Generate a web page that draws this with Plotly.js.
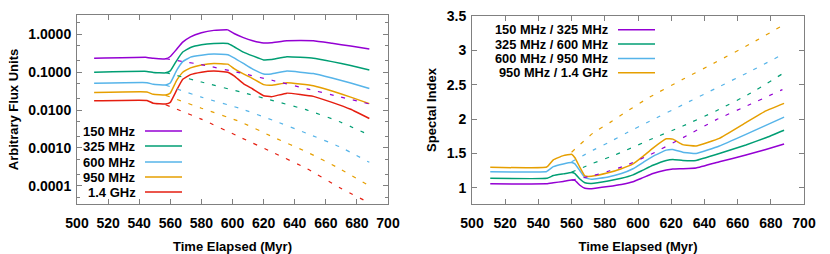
<!DOCTYPE html>
<html><head><meta charset="utf-8">
<script src="https://cdn.plot.ly/plotly-3.0.1.min.js"></script>
<style>html,body{margin:0;padding:0;background:#fff}#chart{width:830px;height:254px}</style>
</head><body><div id="chart"></div>
<script>
// ---------- Left panel: flux vs time ----------
const fluxTime = [511, 545, 549, 557, 560, 564, 568, 573, 580, 588, 597, 601, 607, 613, 620, 625, 635, 652, 664, 676, 688];
const flux150 = [0.232, 0.246, 0.232, 0.226, 0.26, 0.40, 0.62, 0.86, 1.10, 1.27, 1.31, 1.05, 0.82, 0.68, 0.59, 0.60, 0.68, 0.68, 0.58, 0.49, 0.41];
const flux325 = [0.100, 0.105, 0.098, 0.096, 0.108, 0.20, 0.34, 0.45, 0.53, 0.57, 0.57, 0.47, 0.34, 0.27, 0.21, 0.215, 0.255, 0.235, 0.19, 0.15, 0.114];
const flux600 = [0.051, 0.053, 0.048, 0.046, 0.052, 0.11, 0.19, 0.25, 0.28, 0.30, 0.29, 0.24, 0.17, 0.12, 0.09, 0.09, 0.107, 0.092, 0.07, 0.052, 0.037];
const flux950 = [0.029, 0.030, 0.026, 0.025, 0.028, 0.060, 0.10, 0.13, 0.155, 0.17, 0.163, 0.125, 0.09, 0.068, 0.047, 0.045, 0.053, 0.044, 0.032, 0.022, 0.0148];
const flux1400 = [0.0175, 0.018, 0.0152, 0.0145, 0.016, 0.033, 0.065, 0.086, 0.10, 0.107, 0.10, 0.08, 0.05, 0.036, 0.024, 0.0225, 0.028, 0.023, 0.016, 0.0105, 0.006];

const fluxDashTime = [557, 580, 605, 626, 648, 669, 688];
const flux150Dash = [0.2265, 0.1585, 0.0955, 0.0603, 0.0363, 0.0224, 0.0145];
const flux325Dash = [0.0977, 0.0550, 0.0302, 0.0178, 0.0100, 0.0049, 0.00219];
const flux600Dash = [0.0457, 0.0219, 0.0110, 0.00537, 0.0024, 0.00107, 0.000417];
const flux950Dash = [0.0245, 0.0112, 0.0049, 0.00195, 0.000776, 0.000282, 0.0001];
const flux1400Dash = [0.0138, 0.00575, 0.00191, 0.000759, 0.000282, 0.0000891, 0.0000355];

const fluxLabels = ['150 MHz', '325 MHz', '600 MHz', '950 MHz', '1.4 GHz'];
const fluxTickVals = [0.0001, 0.001, 0.01, 0.1, 1];
const fluxTickText = ['0.0001', '0.0010', '0.0100', '0.1000', '1.0000'];
const fluxMinorTicks = [0.00005, 0.0002, 0.0005, 0.002, 0.005, 0.02, 0.05, 0.2, 0.5, 2];

// ---------- Right panel: spectral index vs time ----------
const specTime = [511, 545, 549, 555, 560, 562, 565, 568, 572, 582, 590, 597, 603, 609, 617, 621, 627, 635, 649, 665, 677, 688];
const spec150_325 = [1.06, 1.06, 1.075, 1.095, 1.115, 1.11, 1.04, 0.995, 0.99, 1.02, 1.05, 1.09, 1.15, 1.21, 1.26, 1.275, 1.28, 1.29, 1.38, 1.48, 1.56, 1.64];
const spec325_600 = [1.14, 1.14, 1.18, 1.205, 1.225, 1.21, 1.13, 1.075, 1.065, 1.10, 1.14, 1.19, 1.26, 1.33, 1.40, 1.415, 1.40, 1.40, 1.50, 1.625, 1.73, 1.84];
const spec600_950 = [1.235, 1.24, 1.31, 1.35, 1.37, 1.35, 1.25, 1.15, 1.125, 1.16, 1.21, 1.28, 1.37, 1.46, 1.55, 1.56, 1.52, 1.50, 1.61, 1.78, 1.91, 2.03];
const spec950_1400 = [1.30, 1.305, 1.41, 1.47, 1.49, 1.44, 1.30, 1.175, 1.17, 1.22, 1.28, 1.35, 1.46, 1.58, 1.715, 1.71, 1.63, 1.61, 1.72, 1.95, 2.12, 2.23];

const specDashTime = [560, 573, 583, 593, 607, 627, 647, 668, 687];
const spec150_325Dash = [1.115, 1.18, 1.25, 1.33, 1.48, 1.73, 1.99, 2.22, 2.43];
const spec325_600Dash = [1.23, 1.36, 1.45, 1.55, 1.70, 1.90, 2.12, 2.38, 2.66];
const spec600_950Dash = [1.38, 1.55, 1.67, 1.80, 1.97, 2.21, 2.45, 2.70, 2.94];
const spec950_1400Dash = [1.52, 1.80, 1.95, 2.11, 2.32, 2.58, 2.83, 3.10, 3.36];

const specLabels = ['150 MHz / 325 MHz', '325 MHz / 600 MHz', '600 MHz / 950 MHz', '950 MHz / 1.4 GHz'];
const specTickVals = [1, 1.5, 2, 2.5, 3, 3.5];
const specTickText = ['1', '1.5', '2', '2.5', '3', '3.5'];
const timeTickVals = [500, 520, 540, 560, 580, 600, 620, 640, 660, 680, 700];

// ---------- Styling ----------
const colors = ['#9400d3', '#009e73', '#56b4e9', '#e69f00', '#e51e10'];
const FONT = 'Liberation Sans, Arial, sans-serif';
const frame = '#808080';
const W = 830, H = 254;
const DASH = '4px,8px';

const fluxSolid = [flux150, flux325, flux600, flux950, flux1400];
const fluxDash = [flux150Dash, flux325Dash, flux600Dash, flux950Dash, flux1400Dash];
const specSolid = [spec150_325, spec325_600, spec600_950, spec950_1400];
const specDash = [spec150_325Dash, spec325_600Dash, spec600_950Dash, spec950_1400Dash];

const traces = [];
fluxSolid.forEach((ys, i) => traces.push({x: fluxTime, y: ys, xaxis: 'x', yaxis: 'y', mode: 'lines', hoverinfo: 'skip', showlegend: false,
  line: {color: colors[i], width: 1.5, shape: 'spline', smoothing: 0.3}}));
fluxDash.forEach((ys, i) => traces.push({x: fluxDashTime, y: ys, xaxis: 'x', yaxis: 'y', mode: 'lines', hoverinfo: 'skip', showlegend: false,
  line: {color: colors[i], width: 1.2, dash: DASH, shape: 'spline', smoothing: 0.5}}));
specSolid.forEach((ys, i) => traces.push({x: specTime, y: ys, xaxis: 'x2', yaxis: 'y2', mode: 'lines', hoverinfo: 'skip', showlegend: false,
  line: {color: colors[i], width: 1.5, shape: 'spline', smoothing: 0.3}}));
specDash.forEach((ys, i) => traces.push({x: specDashTime, y: ys, xaxis: 'x2', yaxis: 'y2', mode: 'lines', hoverinfo: 'skip', showlegend: false,
  line: {color: colors[i], width: 1.2, dash: DASH, shape: 'spline', smoothing: 0.5}}));

const tickFont = {family: FONT, size: 14, color: '#000', weight: 'bold'};
const titleFont = {family: FONT, size: 13, color: '#000', weight: 'bold'};

function xAxis(domain, anchor) {
  return {domain, anchor, range: [500, 700], tickmode: 'array', tickvals: timeTickVals,
    ticks: 'inside', ticklen: 5, tickcolor: frame, tickwidth: 1, ticklabelstandoff: 6,
    showline: true, linecolor: frame, linewidth: 1, mirror: 'allticks',
    showgrid: false, zeroline: false, tickfont: tickFont,
    title: {text: 'Time Elapsed (Myr)', font: titleFont, standoff: 13}};
}

// legend (gnuplot style: right-aligned text, sample line to the right)
const annotations = [], shapes = [];
const leftRows = [131, 146, 162, 177, 192];
fluxLabels.forEach((t, i) => {
  annotations.push({xref: 'paper', yref: 'paper', x: 137 / W, y: 1 - leftRows[i] / H, xanchor: 'right', yanchor: 'middle',
    text: t, showarrow: false, borderpad: 0, font: {family: FONT, size: 13, color: '#000', weight: 'bold'}});
  shapes.push({type: 'line', xref: 'paper', yref: 'paper', x0: 145 / W, x1: 182 / W, y0: 1 - leftRows[i] / H, y1: 1 - leftRows[i] / H,
    line: {color: colors[i], width: 1.5}});
});
const rightRows = [29.8, 44.1, 58.4, 72.7];
specLabels.forEach((t, i) => {
  annotations.push({xref: 'paper', yref: 'paper', x: 609 / W, y: 1 - rightRows[i] / H, xanchor: 'right', yanchor: 'middle',
    text: t, showarrow: false, borderpad: 0, font: {family: FONT, size: 12.8, color: '#000', weight: 'bold'}});
  shapes.push({type: 'line', xref: 'paper', yref: 'paper', x0: 618 / W, x1: 655 / W, y0: 1 - rightRows[i] / H, y1: 1 - rightRows[i] / H,
    line: {color: colors[i], width: 1.5}});
});

const layout = {
  width: W, height: H, margin: {l: 0, r: 0, t: 0, b: 0}, paper_bgcolor: '#fff', plot_bgcolor: '#fff',
  showlegend: false,
  xaxis: xAxis([77 / W, 388 / W], 'y'),
  xaxis2: xAxis([472 / W, 804 / W], 'y2'),
  yaxis: {domain: [1 - 204 / H, 1 - 15 / H], anchor: 'x', type: 'log', range: [-4.48, 0.51],
    tickmode: 'array', tickvals: fluxTickVals, ticktext: fluxTickText,
    ticks: 'inside', ticklen: 5, tickcolor: frame, tickwidth: 1, ticklabelstandoff: 2,
    minor: {tickmode: 'array', tickvals: fluxMinorTicks, ticks: 'inside', ticklen: 3, tickcolor: frame, tickwidth: 1, showgrid: false},
    showline: true, linecolor: frame, linewidth: 1, mirror: 'allticks',
    showgrid: false, zeroline: false, tickfont: tickFont,
    title: {text: 'Arbitrary Flux Units', font: titleFont, standoff: 6}},
  yaxis2: {domain: [1 - 204 / H, 1 - 16 / H], anchor: 'x2', range: [0.767, 3.5],
    tickmode: 'array', tickvals: specTickVals, ticktext: specTickText,
    ticks: 'inside', ticklen: 5, tickcolor: frame, tickwidth: 1, ticklabelstandoff: 2,
    showline: true, linecolor: frame, linewidth: 1, mirror: 'allticks',
    showgrid: false, zeroline: false, tickfont: tickFont,
    title: {text: 'Spectal Index', font: titleFont, standoff: 7}},
  annotations, shapes
};

Plotly.newPlot('chart', traces, layout, {staticPlot: true, displayModeBar: false});
</script>
</body></html>
